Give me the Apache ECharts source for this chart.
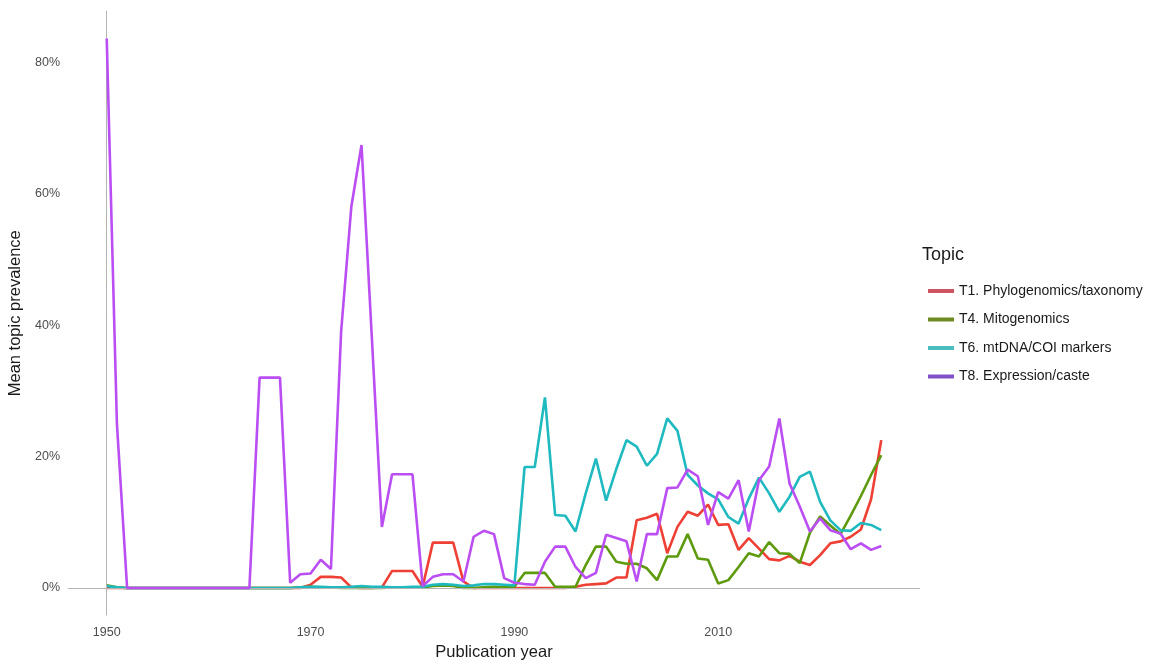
<!DOCTYPE html>
<html>
<head>
<meta charset="utf-8">
<title>Mean topic prevalence by publication year</title>
<script src="https://cdn.jsdelivr.net/npm/echarts@6/dist/echarts.min.js"></script>
<style>
  html, body { margin: 0; padding: 0; background: #fff; }
  #chart { width: 1173px; height: 671px; }
</style>
</head>
<body>
<div id="chart"></div>
<script>
// years 1950..2026, one value per year (percent)
var firstYear = 1950;
var lastYear = 2026;

var topicNames = [
    'T1. Phylogenomics/taxonomy',
    'T4. Mitogenomics',
    'T6. mtDNA/COI markers',
    'T8. Expression/caste'
];

var t1Values = [
    0, 0, 0, 0, 0, 0, 0, 0, 0, 0,                         // 1950-1959
    0, 0, 0, 0, 0, 0, 0, 0, 0, 0,                         // 1960-1969
    0.5, 1.7, 1.7, 1.6, 0.1, 0, 0, 0.1, 2.6, 2.6,         // 1970-1979
    2.6, 0.2, 6.9, 6.9, 6.9, 1.0, 0, 0, 0, 0,             // 1980-1989
    0, 0, 0, 0, 0, 0, 0.2, 0.5, 0.6, 0.7,                 // 1990-1999
    1.6, 1.6, 10.3, 10.7, 11.3, 5.3, 9.3, 11.6, 11.0, 12.7, // 2000-2009
    9.6, 9.7, 5.8, 7.6, 6.0, 4.4, 4.2, 4.9, 4.0, 3.5,     // 2010-2019
    5.0, 6.8, 7.1, 7.8, 8.9, 13.5, 22.5                   // 2020-2026
];

var t4Values = [
    0.4, 0.1, 0, 0, 0, 0, 0, 0, 0, 0,
    0, 0, 0, 0, 0, 0, 0, 0, 0, 0.1,
    0.2, 0.1, 0.1, 0, 0, 0, 0, 0, 0.1, 0.1,
    0.1, 0.1, 0.3, 0.4, 0.3, 0, 0, 0.1, 0.2, 0.1,
    0.2, 2.3, 2.3, 2.3, 0.2, 0.2, 0.2, 3.5, 6.3, 6.3,
    4.0, 3.7, 3.7, 3.0, 1.2, 4.8, 4.8, 8.2, 4.5, 4.3,
    0.7, 1.2, 3.2, 5.3, 4.8, 7.0, 5.3, 5.2, 3.8, 8.4,
    10.9, 9.5, 8.2, 11.0, 14.0, 17.2, 20.2
];

var t6Values = [
    0.3, 0.1, 0, 0, 0, 0, 0, 0, 0, 0,
    0, 0, 0, 0, 0, 0, 0, 0, 0, 0.1,
    0.2, 0.2, 0.1, 0.1, 0.2, 0.3, 0.2, 0.2, 0.1, 0.1,
    0.2, 0.2, 0.5, 0.6, 0.5, 0.3, 0.4, 0.6, 0.6, 0.5,
    0.4, 18.4, 18.4, 29.0, 11.1, 11.0, 8.6, 14.4, 19.7, 13.3,
    18.1, 22.5, 21.5, 18.6, 20.4, 25.8, 23.9, 17.2, 15.6, 14.4,
    13.5, 10.8, 9.8, 13.6, 16.8, 14.4, 11.6, 13.9, 16.9, 17.7,
    13.1, 10.3, 8.8, 8.7, 9.9, 9.6, 8.8
];

var t8Values = [
    83.6, 25, 0, 0, 0, 0, 0, 0, 0, 0,
    0, 0, 0, 0, 0, 32, 32, 32, 0.8, 2.1,
    2.2, 4.3, 2.9, 39, 58, 67.4, 38.5, 9.3, 17.3, 17.3,
    17.3, 0.3, 1.7, 2.1, 2.1, 1.0, 7.8, 8.7, 8.2, 1.5,
    0.8, 0.6, 0.5, 4.0, 6.3, 6.3, 3.2, 1.5, 2.3, 8.1,
    7.6, 7.1, 1.0, 8.2, 8.2, 15.2, 15.3, 18.0, 17.0, 9.6,
    14.6, 13.6, 16.4, 8.6, 16.4, 18.5, 25.8, 15.9, 12.4, 8.6,
    10.6, 8.8, 8.3, 5.9, 6.8, 5.8, 6.4
];

var xTicks = [1950, 1970, 1990, 2010];
var yTicks = [0, 20, 40, 60, 80];

var lineColors = ['#EE4035', '#5E9A0E', '#1FB9C0', '#BB4EF2'];
var keyColors = ['#CC5560', '#6E8B22', '#4BBDBD', '#8050C8'];

function toPairs(values) {
    var out = [];
    for (var i = 0; i < values.length; i++) {
        out.push([firstYear + i, values[i]]);
    }
    return out;
}

var allValues = [t1Values, t4Values, t6Values, t8Values];

// ggplot-like 5% expansion around the data
var xPad = (lastYear - firstYear) * 0.05;
var yMax = 83.6;
var yPad = yMax * 0.05;

var font = 'Liberation Sans, Arial, Helvetica, sans-serif';

var series = [{
    name: 'ref',
    type: 'line',
    data: [],
    z: 1,
    silent: true,
    markLine: {
        silent: true,
        symbol: 'none',
        label: { show: false },
        lineStyle: { color: '#b3b3b3', width: 1, type: 'solid' },
        data: [{ xAxis: 1950 }, { yAxis: 0 }]
    }
}];

topicNames.forEach(function (name, i) {
    series.push({
        name: name,
        type: 'line',
        data: toPairs(allValues[i]),
        showSymbol: false,
        z: 2 + i,
        lineStyle: { color: lineColors[i], width: 2.6 },
        itemStyle: { color: lineColors[i] }
    });
});

var myChart = echarts.init(document.getElementById('chart'));

var option = {
    animation: false,
    backgroundColor: '#fff',
    grid: {
        left: 68,
        right: 253,
        top: 11,
        bottom: 55.5,
        containLabel: false,
        outerBoundsMode: 'none'
    },
    xAxis: {
        type: 'value',
        min: firstYear - xPad,
        max: lastYear + xPad,
        name: 'Publication year',
        nameLocation: 'middle',
        nameGap: 20,
        nameTextStyle: { fontFamily: font, fontSize: 16.5, color: '#1a1a1a' },
        axisLine: { show: false },
        axisTick: { show: false },
        splitLine: { show: false },
        axisLabel: {
            customValues: xTicks,
            margin: 11,
            fontFamily: font,
            fontSize: 12.5,
            color: '#4d4d4d',
            formatter: function (v) { return String(Math.round(v)); }
        }
    },
    yAxis: {
        type: 'value',
        min: -yPad,
        max: yMax + yPad,
        name: 'Mean topic prevalence',
        nameLocation: 'middle',
        nameGap: 41,
        nameRotate: 90,
        nameTextStyle: { fontFamily: font, fontSize: 16.5, color: '#1a1a1a' },
        axisLine: { show: false },
        axisTick: { show: false },
        splitLine: { show: false },
        axisLabel: {
            customValues: yTicks,
            margin: 8,
            fontFamily: font,
            fontSize: 12.5,
            color: '#4d4d4d',
            formatter: function (v) { return Math.round(v) + '%'; }
        }
    },
    legend: {
        orient: 'vertical',
        left: 923,
        top: 279,
        icon: 'rect',
        itemWidth: 26,
        itemHeight: 4,
        itemGap: 14.5,
        selectedMode: false,
        textStyle: { fontFamily: font, fontSize: 14, color: '#1a1a1a' },
        data: topicNames.map(function (name, i) {
            return {
                name: name,
                itemStyle: { color: keyColors[i] },
                lineStyle: { color: keyColors[i] }
            };
        })
    },
    graphic: [{
        type: 'text',
        left: 922,
        top: 246,
        style: {
            text: 'Topic',
            fontFamily: font,
            fontSize: 18,
            fill: '#1a1a1a'
        }
    }],
    series: series
};

myChart.setOption(option);
</script>
</body>
</html>
